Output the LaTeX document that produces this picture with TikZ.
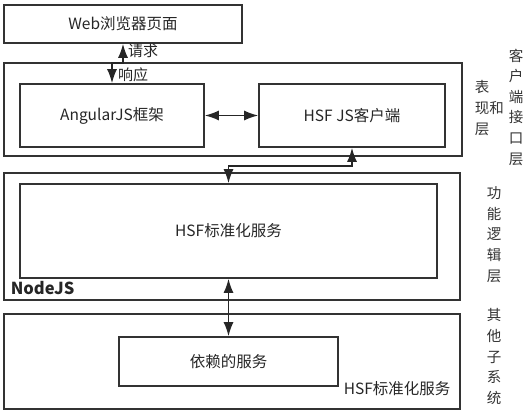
\documentclass[tikz,border=0pt]{standalone}
\usepackage{fontspec}
\setmainfont{Noto Sans CJK SC}
\usepackage{tikz}
\usetikzlibrary{arrows.meta}

\begin{document}
\begin{tikzpicture}[x=1pt,y=-1pt,line width=1.6pt,
  box/.style={draw=black!80,inner sep=0pt,font=\fontsize{15.5}{17}\selectfont,text=black!85},
  arr/.style={{Latex[length=14pt,width=10pt]}-{Latex[length=14pt,width=10pt]},draw=black!85},
  side/.style={align=left,anchor=north west,inner sep=0pt,font=\fontsize{14.5}{20.6}\selectfont,text=black!80},
  tag/.style={inner sep=0pt,font=\fontsize{15}{16}\selectfont,text=black!85}]
  \useasboundingbox (0,0) rectangle (527,414);
  % browser
  \node[box,minimum width=238,minimum height=38] (web) at (123,24) {Web浏览器页面};
  % presentation layer
  \node[box,minimum width=458,minimum height=93] (pres) at (233,109.5) {};
  \node[box,minimum width=184,minimum height=63] (ang) at (112,115.5) {AngularJS框架};
  \node[box,minimum width=186,minimum height=63] (hsfjs) at (352,115.5) {HSF JS客户端};
  % nodejs layer
  \node[box,minimum width=456,minimum height=127] (nodejs) at (232,236.5) {};
  \node[box,minimum width=417,minimum height=94] (hsf) at (228.5,231) {HSF标准化服务};
  \node[anchor=west,inner sep=0pt,font=\fontsize{16.5}{17}\selectfont\bfseries,text=black!85] (nodename) at (10,288) {NodeJS};
  % other systems
  \node[box,minimum width=456,minimum height=95] (other) at (232,361.5) {};
  \node[box,minimum width=219,minimum height=49] (dep) at (228.5,361.5) {依赖的服务};
  \node[box,draw=none,anchor=west] (othername) at (343,389) {HSF标准化服务};
  % connectors
  \draw[arr] (web.south) -- ++(0,19) -| (ang.north);
  \node[tag] (req) at (143,51) {请求};
  \node[tag] (resp) at (133,75) {响应};
  \draw[arr] (ang.east) -- (hsfjs.west);
  \draw[arr] (hsfjs.south) -- ++(0,18) -| (hsf.north);
  \draw[arr] (hsf.south) -- (dep.north);
  % layer names
  \node[side] (presname) at (474,80) {表\\现和\\层};
  \node[side] (clientname) at (508,48) {客\\户\\端\\接\\口\\层};
  \node[side] (logicname) at (486,186) {功\\能\\逻\\辑\\层};
  \node[side] (othersys) at (486,308) {其\\他\\子\\系\\统};
\end{tikzpicture}
\end{document}
